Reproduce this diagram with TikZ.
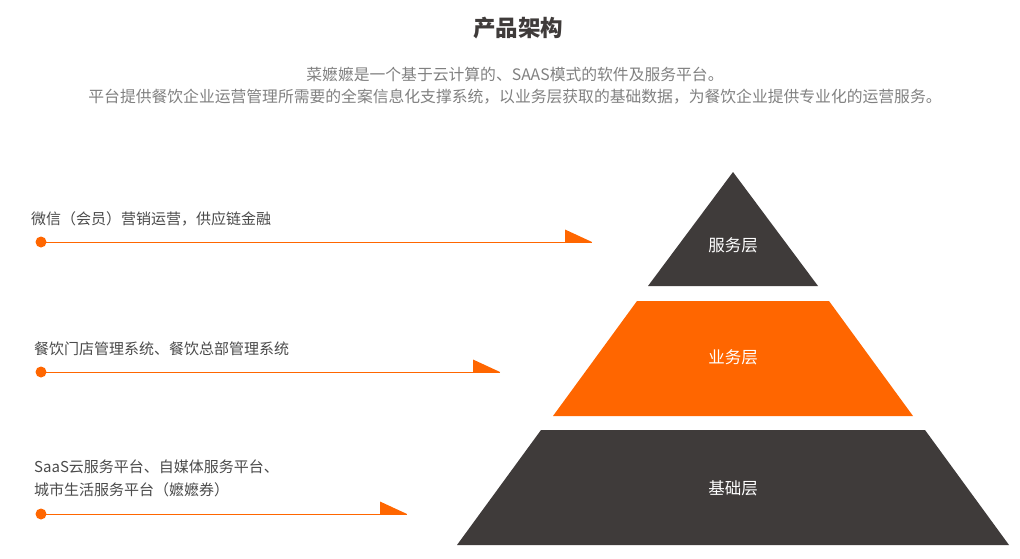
\documentclass[tikz,border=0pt]{standalone}
\usepackage{fontspec}
\newfontfamily\cjk{Noto Sans CJK SC}
\usetikzlibrary{positioning}
\definecolor{layerdark}{HTML}{3F3B3A}
\definecolor{layerorange}{HTML}{FF6600}
\definecolor{desctext}{HTML}{808080}
\definecolor{labeltext}{HTML}{4A4A4A}
\tikzset{
  layer/.style={draw=none},
  layerlabel/.style={text=white, font=\cjk\fontsize{16.5}{18}\selectfont, inner sep=0pt},
  sidelabel/.style={anchor=base west, text=labeltext, font=\cjk\fontsize{15}{23}\selectfont, inner sep=0pt, align=left},
  dot/.style={circle, fill=layerorange, minimum size=11pt, inner sep=0pt},
  pointer/.style={layerorange, line width=0.8pt},
  pointerhead/.style={fill=layerorange, draw=none}
}
\begin{document}
\begin{tikzpicture}[x=1pt, y=-1pt]
  \useasboundingbox (0,0) rectangle (1020,559);

  % title and intro
  \node[font=\cjk\bfseries\fontsize{22.5}{26}\selectfont, text=layerdark] (title) at (518,28) {产品架构};
  \node[font=\cjk\fontsize{15.8}{22}\selectfont, text=desctext, align=center] (intro) at (515,86)
    {菜嬷嬷是一个基于云计算的、SAAS模式的软件及服务平台。\\
     平台提供餐饮企业运营管理所需要的全案信息化支撑系统，以业务层获取的基础数据，为餐饮企业提供专业化的运营服务。};

  % pyramid
  \fill[layer, layerdark] (733,172) -- (818,286) -- (648,286) -- cycle;
  \fill[layer, layerorange] (637,301) -- (829,301) -- (913,416) -- (553,416) -- cycle;
  \fill[layer, layerdark] (541,430) -- (925,430) -- (1009,545) -- (457,545) -- cycle;
  \node[layerlabel] (service) at (733,245) {服务层};
  \node[layerlabel] (business) at (733,357) {业务层};
  \node[layerlabel] (base) at (733,488) {基础层};

  % side labels
  \node[sidelabel] (wechat) at (31,224) {微信（会员）营销运营，供应链金融};
  \node[sidelabel] (erp) at (34,354) {餐饮门店管理系统、餐饮总部管理系统};
  \node[sidelabel] (saas) at (34,495) {SaaS云服务平台、自媒体服务平台、\\城市生活服务平台（嬷嬷券）};

  % pointers
  \foreach \n/\y/\tip in {one/242/592, two/372/500, three/514/407} {
    \node[dot] (dot\n) at (41,\y) {};
    \coordinate (tip\n) at (\tip,\y);
    \draw[pointer] (dot\n.center) -- (tip\n);
    \fill[pointerhead] (tip\n) -- ++(-27,0) -- ++(0,-12.5) -- cycle;
  }
\end{tikzpicture}
\end{document}
